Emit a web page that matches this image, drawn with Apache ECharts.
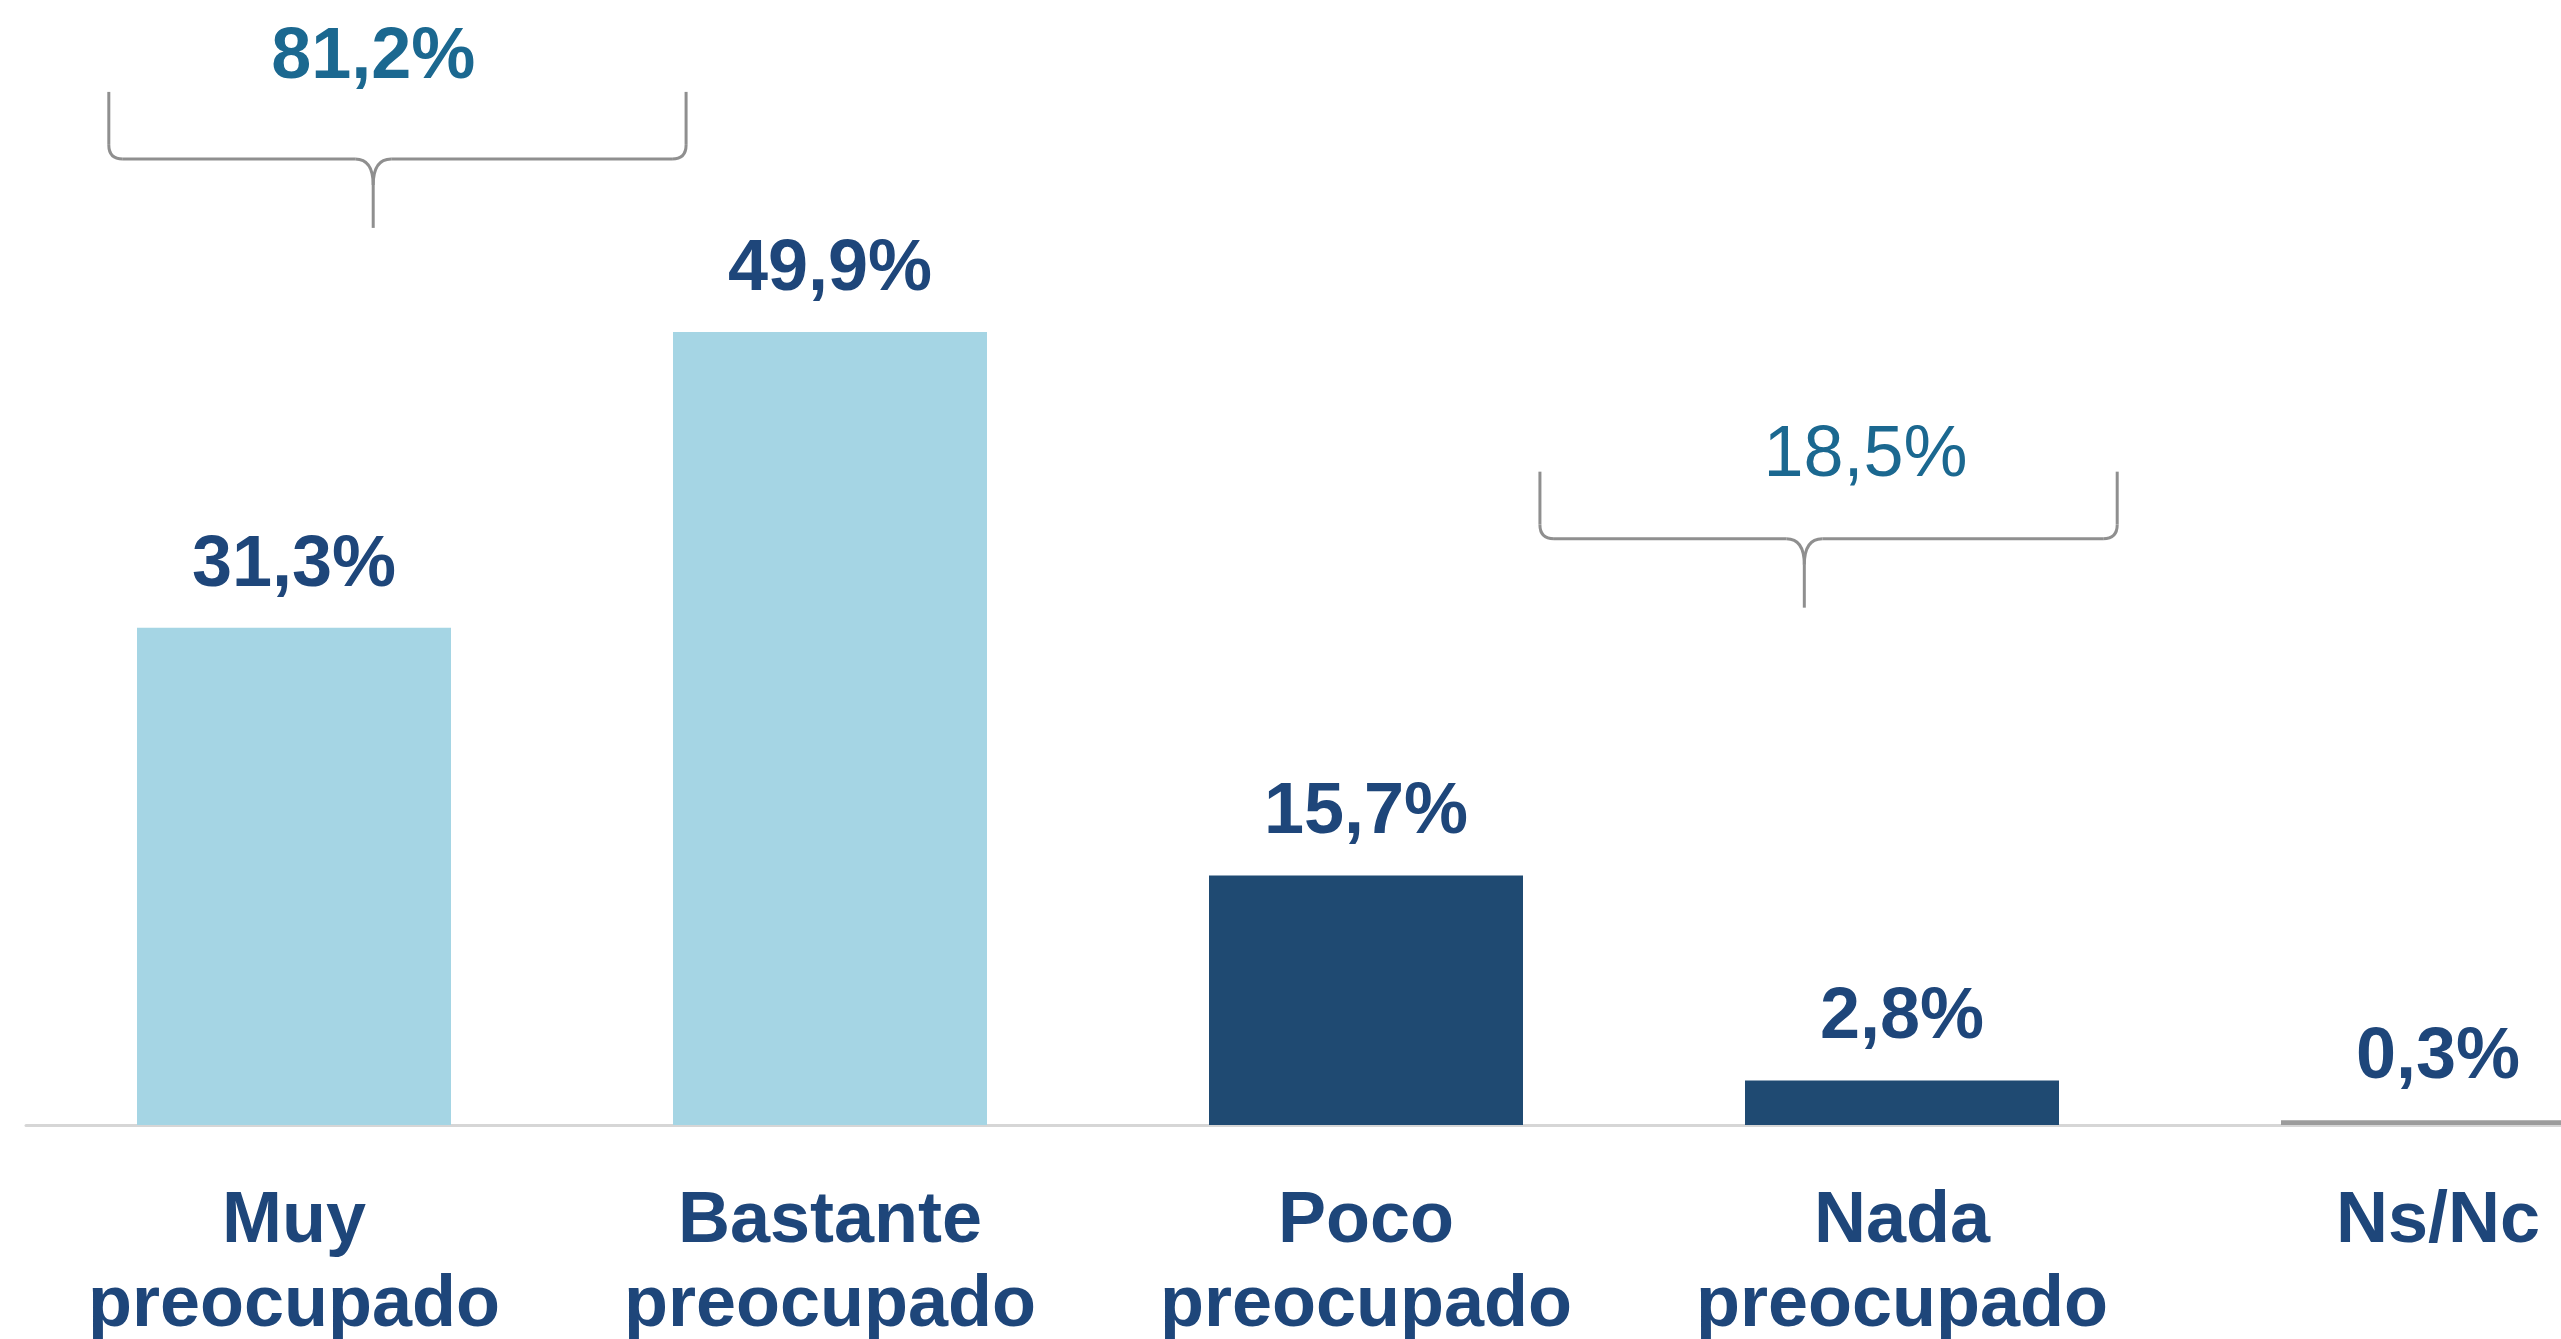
<!DOCTYPE html>
<html>
<head>
<meta charset="utf-8">
<script src="https://cdn.jsdelivr.net/npm/echarts@6/dist/echarts.min.js"></script>
<style>
  html, body { margin: 0; padding: 0; background: #fff; }
  #chart { width: 2561px; height: 1339px; }
</style>
</head>
<body>
<div id="chart"></div>
<script>
// data
const categories = ['Muy\npreocupado', 'Bastante\npreocupado', 'Poco\npreocupado', 'Nada\npreocupado', 'Ns/Nc']
const values = [31.3, 49.9, 15.7, 2.8, 0.3]
const groupLabels = ['81,2%', '18,5%']
const groupFrom = [0, 2]
const groupTo = [1, 3]

// styles
const LIGHT = '#a5d5e4'
const DARK = '#1f4a72'
const barColors = [LIGHT, LIGHT, DARK, DARK, '#9c9c9c']
const TEXT = '#1e467a'
const GROUP_TEXT = '#1b6890'
const FONT = '"Liberation Sans", Arial, sans-serif'

// bracket layout (value level of the bar, shift/span in band units)
const bracketLevel = [60.8, 36.9]
const bracketShift = [-0.307, 0.363]
const bracketSpan = 1.077
const stemPos = 0.458
const labelDx = [0, 0.106]
const labelDy = [-34, -16]
const labelWeight = ['bold', 'normal']

const chart = echarts.init(document.getElementById('chart'))

function renderBracket(params, api) {
  const i = params.dataIndex
  const band = api.coord([1, 0])[0] - api.coord([0, 0])[0]
  const a = api.coord([api.value(0), api.value(2)])
  const b = api.coord([api.value(1), api.value(2)])
  const w = bracketSpan * band
  const cx = (a[0] + b[0]) / 2 + bracketShift[i] * band
  const L = cx - w / 2
  const R = cx + w / 2
  const H = a[1]
  const T = H - 67
  const B = H + 69
  const S = L + stemPos * w
  const r = 14
  const c = 18
  const style = { stroke: '#8f8f8f', lineWidth: 3, fill: null }
  const line = (x1, y1, x2, y2) => ({ type: 'line', shape: { x1, y1, x2, y2 }, style })
  const curve = (x1, y1, cpx1, cpy1, x2, y2) => ({ type: 'bezierCurve', shape: { x1, y1, cpx1, cpy1, x2, y2 }, style })
  return {
    type: 'group',
    silent: true,
    children: [
      line(L, T, L, H - r),
      curve(L, H - r, L, H, L + r, H),
      line(L + r, H, S - c, H),
      curve(S - c, H, S, H, S, H + 26),
      line(S, H + 26, S, B),
      curve(S + c, H, S, H, S, H + 26),
      line(S + c, H, R - r, H),
      curve(R - r, H, R, H, R, H - r),
      line(R, H - r, R, T),
      {
        type: 'text',
        style: {
          text: groupLabels[i],
          x: S + labelDx[i] * w,
          y: T + labelDy[i],
          align: 'center',
          verticalAlign: 'middle',
          fill: GROUP_TEXT,
          font: labelWeight[i] + ' 72px ' + FONT
        }
      }
    ]
  }
}

const option = {
  animation: false,
  backgroundColor: '#ffffff',
  grid: {
    left: 26,
    right: -145,
    top: 0,
    bottom: 214,
    containLabel: false,
    outerBoundsMode: 'none'
  },
  xAxis: {
    type: 'category',
    data: categories,
    axisTick: { show: false },
    axisLine: { lineStyle: { color: '#d6d6d6', width: 3 } },
    axisLabel: {
      interval: 0,
      margin: 55,
      color: TEXT,
      fontFamily: FONT,
      fontSize: 72,
      fontWeight: 'bold',
      lineHeight: 84
    }
  },
  yAxis: {
    type: 'value',
    min: 0,
    max: 70.8,
    show: false,
    splitLine: { show: false }
  },
  series: [
    {
      type: 'bar',
      barWidth: 314,
      data: values.map((v, i) => ({ value: v, itemStyle: { color: barColors[i] } })),
      label: {
        show: true,
        position: 'top',
        distance: 26,
        color: TEXT,
        fontFamily: FONT,
        fontSize: 72,
        fontWeight: 'bold',
        lineHeight: 72,
        formatter: p => p.value.toFixed(1).replace('.', ',') + '%'
      }
    },
    {
      type: 'custom',
      renderItem: renderBracket,
      encode: { x: [0, 1], y: 2 },
      data: groupFrom.map((f, i) => [f, groupTo[i], bracketLevel[i]]),
      z: 5
    }
  ]
}

chart.setOption(option)
</script>
</body>
</html>
